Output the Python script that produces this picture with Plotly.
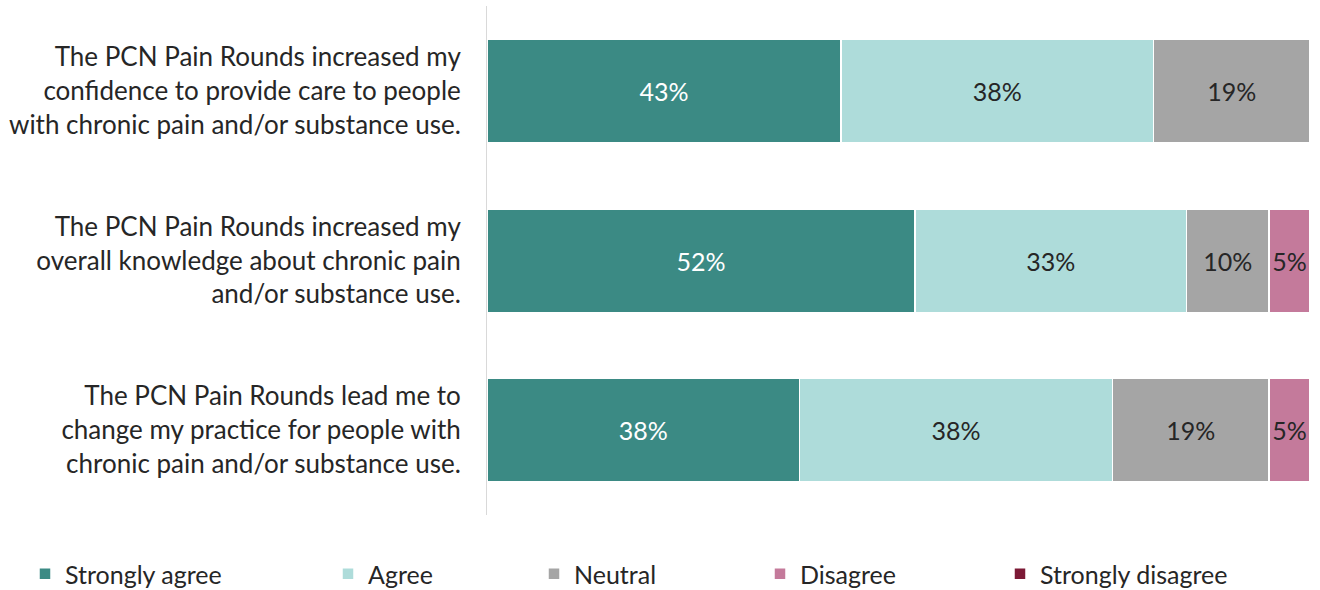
import plotly.graph_objects as go

statements = [
    "The PCN Pain Rounds increased my<br>confidence to provide care to people<br>with chronic pain and/or substance use.",
    "The PCN Pain Rounds increased my<br>overall knowledge about chronic pain<br>and/or substance use.",
    "The PCN Pain Rounds lead me to<br>change my practice for people with<br>chronic pain and/or substance use.",
]

strongly_agree = [43, 52, 38]
agree = [38, 33, 38]
neutral = [19, 10, 19]
disagree = [0, 5, 5]
strongly_disagree = [0, 0, 0]

series = [
    ("Strongly agree", strongly_agree, "#3b8a84", "white"),
    ("Agree", agree, "#aedcda", "#262626"),
    ("Neutral", neutral, "#a5a5a5", "#262626"),
    ("Disagree", disagree, "#c47a9b", "#262626"),
    ("Strongly disagree", strongly_disagree, "#7b1935", "white"),
]

FONT = "Lato, 'Open Sans', sans-serif"

# each legend entry gets its own legend box so the spacing can be set freely
legend_x = [25, 328, 534, 760, 1000]

fig = go.Figure()
for i, (name, vals, color, tcolor) in enumerate(series):
    labels = [f"{v}%" if v > 0 else "" for v in vals]
    fig.add_trace(go.Bar(
        name=name,
        y=statements,
        x=vals,
        orientation="h",
        marker=dict(color=color, line=dict(color="white", width=1.5)),
        text=labels,
        textposition="inside",
        insidetextanchor="middle",
        textangle=0,
        textfont=dict(color=tcolor, size=25, family=FONT),
        hoverinfo="skip",
        showlegend=True,
        legend="legend" if i == 0 else f"legend{i + 1}",
    ))

layout_legends = {}
for i, lx in enumerate(legend_x):
    key = "legend" if i == 0 else f"legend{i + 1}"
    layout_legends[key] = dict(
        x=lx / 1320, y=1 - 574 / 590,
        xref="container", yref="container",
        xanchor="left", yanchor="middle",
        orientation="h", bgcolor="rgba(0,0,0,0)",
        font=dict(size=25, color="#262626", family=FONT),
        itemwidth=30,
    )

fig.update_layout(
    width=1320,
    height=590,
    showlegend=True,
    barmode="stack",
    bargap=0.39,
    plot_bgcolor="white",
    paper_bgcolor="white",
    margin=dict(l=487, r=10, t=6, b=75),
    font=dict(family=FONT, color="#262626"),
    xaxis=dict(range=[0, 100], visible=False, fixedrange=True),
    yaxis=dict(
        autorange="reversed",
        showline=True,
        linecolor="#d9d9d9",
        linewidth=1,
        showgrid=False,
        zeroline=False,
        ticks="",
        ticklabelstandoff=20,
        tickfont=dict(size=26, color="#262626", family=FONT),
    ),
    **layout_legends,
)

fig.write_html("out.html")
